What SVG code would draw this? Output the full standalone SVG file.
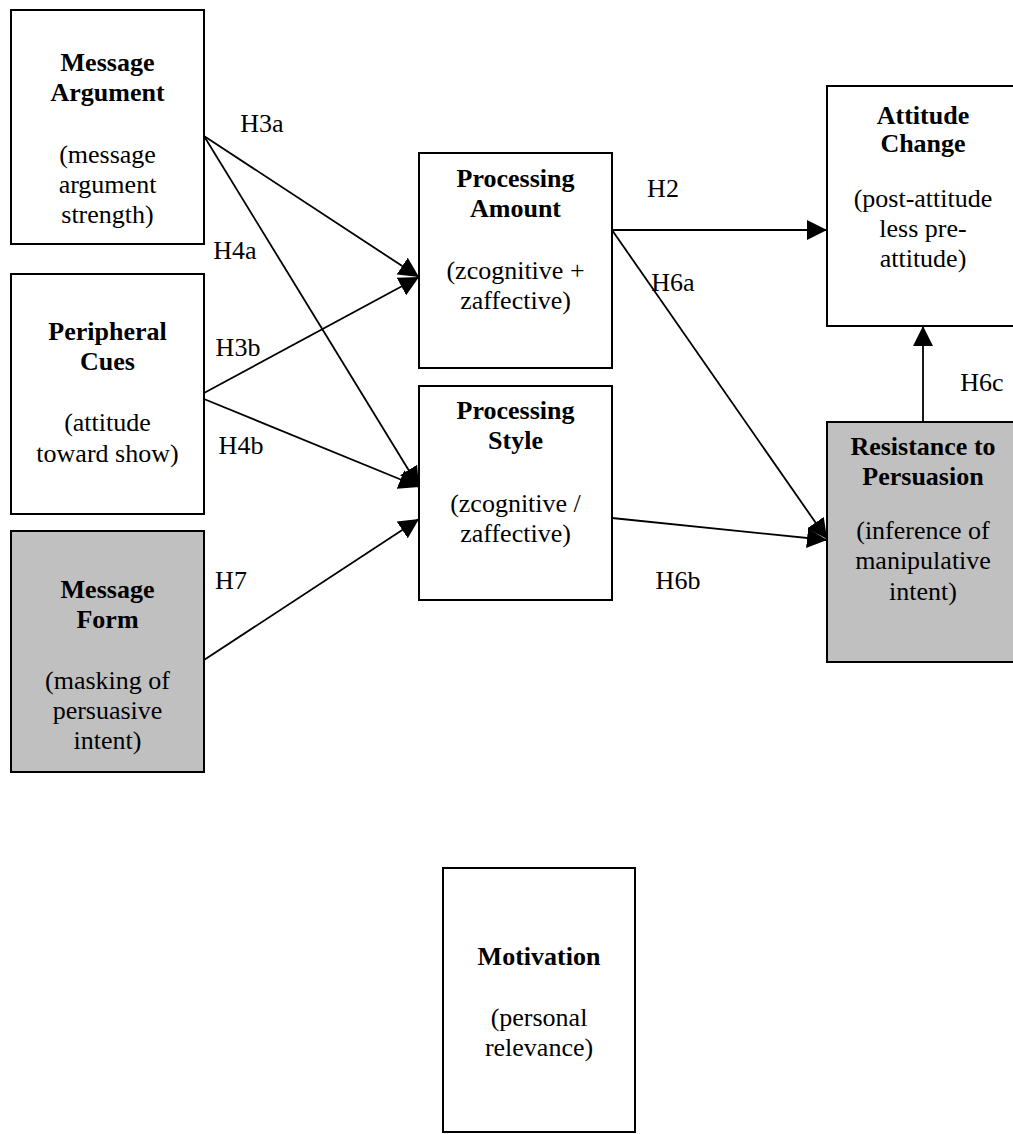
<svg xmlns="http://www.w3.org/2000/svg" width="1013" height="1134" viewBox="0 0 1013 1134">
<style>
.box{fill:#ffffff;stroke:#000;stroke-width:2}
.gray{fill:#c0c0c0}
text{font-family:"Liberation Serif","Times New Roman",serif;font-size:26px;fill:#000;text-anchor:middle}
.b{font-weight:bold}
.conn line{stroke:#000;stroke-width:1.8;fill:none;marker-end:url(#ah)}
</style>
<defs>
<marker id="ah" markerUnits="userSpaceOnUse" markerWidth="21" markerHeight="20" refX="20" refY="10" orient="auto" viewBox="0 0 21 20">
<path d="M0,0 L20,10 L0,20 z" fill="#000"/>
</marker>
</defs>
<rect x="0" y="0" width="1013" height="1134" fill="#fff"/>

<g id="message-argument">
<rect class="box" x="11" y="10" width="193" height="234"/>
<text class="b" x="107.5" y="71">Message</text>
<text class="b" x="107.5" y="101">Argument</text>
<text x="107.5" y="163">(message</text>
<text x="107.5" y="193">argument</text>
<text x="107.5" y="223">strength)</text>
</g>

<g id="peripheral-cues">
<rect class="box" x="11" y="274" width="193" height="240"/>
<text class="b" x="107.5" y="340">Peripheral</text>
<text class="b" x="107.5" y="370">Cues</text>
<text x="107.5" y="431">(attitude</text>
<text x="107.5" y="462">toward show)</text>
</g>

<g id="message-form">
<rect class="box gray" x="11" y="531" width="193" height="241"/>
<text class="b" x="107.5" y="598">Message</text>
<text class="b" x="107.5" y="628">Form</text>
<text x="107.5" y="689">(masking of</text>
<text x="107.5" y="719">persuasive</text>
<text x="107.5" y="749">intent)</text>
</g>

<g id="processing-amount">
<rect class="box" x="419" y="153" width="193" height="215"/>
<text class="b" x="515.5" y="187">Processing</text>
<text class="b" x="515.5" y="217">Amount</text>
<text x="515.5" y="279">(zcognitive +</text>
<text x="515.5" y="309">zaffective)</text>
</g>

<g id="processing-style">
<rect class="box" x="419" y="386" width="193" height="214"/>
<text class="b" x="515.5" y="419">Processing</text>
<text class="b" x="515.5" y="449">Style</text>
<text x="515.5" y="512">(zcognitive /</text>
<text x="515.5" y="542">zaffective)</text>
</g>

<g id="attitude-change">
<rect class="box" x="827" y="86" width="193" height="240"/>
<text class="b" x="923" y="124">Attitude</text>
<text class="b" x="923" y="152">Change</text>
<text x="923" y="207">(post-attitude</text>
<text x="923" y="237">less pre-</text>
<text x="923" y="267">attitude)</text>
</g>

<g id="resistance">
<rect class="box gray" x="827" y="422" width="193" height="240"/>
<text class="b" x="923" y="455">Resistance to</text>
<text class="b" x="923" y="485">Persuasion</text>
<text x="923" y="539">(inference of</text>
<text x="923" y="569">manipulative</text>
<text x="923" y="600">intent)</text>
</g>

<g id="motivation">
<rect class="box" x="443" y="868" width="192" height="264"/>
<text class="b" x="539" y="965">Motivation</text>
<text x="539" y="1026">(personal</text>
<text x="539" y="1056">relevance)</text>
</g>

<g id="connectors" class="conn">
<line x1="204" y1="136" x2="419" y2="277"/>
<line x1="204" y1="136" x2="419" y2="487"/>
<line x1="204" y1="393" x2="419" y2="277"/>
<line x1="204" y1="399" x2="419" y2="487"/>
<line x1="204" y1="660" x2="419" y2="519"/>
<line x1="612" y1="230" x2="827" y2="230"/>
<line x1="612" y1="230" x2="827" y2="539"/>
<line x1="612" y1="518" x2="827" y2="540"/>
<line x1="923" y1="422" x2="923" y2="326"/>
</g>

<g id="labels">
<text x="262" y="132">H3a</text>
<text x="235" y="259">H4a</text>
<text x="238" y="356">H3b</text>
<text x="241" y="454">H4b</text>
<text x="231" y="589">H7</text>
<text x="663" y="197">H2</text>
<text x="673" y="291">H6a</text>
<text x="678" y="589">H6b</text>
<text x="982" y="391">H6c</text>
</g>
</svg>
